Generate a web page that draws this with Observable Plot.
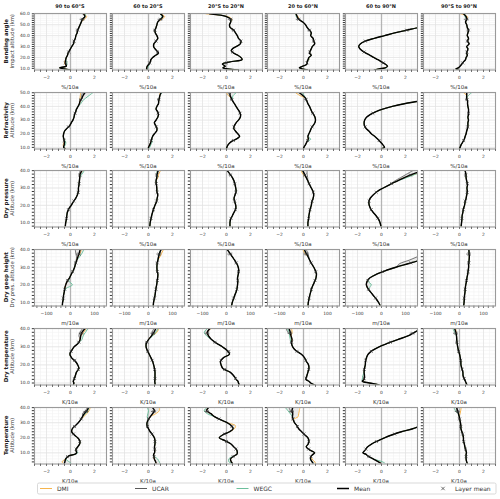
<!DOCTYPE html>
<html><head><meta charset="utf-8">
<script src="https://cdn.jsdelivr.net/npm/d3@7"></script>
<script src="https://cdn.jsdelivr.net/npm/@observablehq/plot@0.6"></script>
<style>
body{margin:0;background:#fff;}
#root{position:relative;width:500px;height:499px;overflow:hidden;background:#fff;}
#root svg{max-width:none;}
</style></head><body><div id="root"></div>
<script>
// ---------- labels ----------
const regions = ["90 to 60°S","60 to 20°S","20°S to 20°N","20 to 60°N","60 to 90°N","90°S to 90°N"];
const rowNames = ["Bending angle","Refractivity","Dry pressure","Dry geop height","Dry temperature","Temperature"];
const rowAxisNames = ["Impact altitude (km)","Altitude (km)","Altitude (km)","Dry pres. altitude (km)","Altitude (km)","Altitude (km)"];
const units = ["%/10a","%/10a","%/10a","m/10a","K/10a","K/10a"];
const legendLabels = ["DMI","UCAR","WEGC","Mean","Layer mean"];

// ---------- tick labels ----------
const xTicksPct = [-2,0,2];
const xTicksM = [-100,0,100];
const yTicksBA = [10,20,30,40,50,60];
const yTicksN = [10,20,30,40,50];
const yTicks40 = [10,20,30,40];

// ---------- Row 1: Bending angle ----------
const altBA = [8.5,9.5,10.5,12,14,16,18,20,22,24,26,28,30,32.5,35,37.5,40,42.5,45,47.5,50,52.5,55,57.5,60];
const meanBA = [
 [0.0,-0.5,-0.9,-0.35,-0.4,-0.42,-0.4,-0.35,-0.25,-0.2,-0.1,0.0,0.1,0.25,0.3,0.4,0.45,0.55,0.6,0.7,0.8,0.9,1.0,1.2,1.1],
 [-0.1,-0.15,-0.15,-0.1,0.05,0.15,0.2,0.35,0.6,0.83,0.7,0.54,0.43,0.45,0.63,0.77,0.7,0.57,0.54,0.63,0.7,0.77,1.0,1.2,1.0],
 [1.0,0.1,-0.3,-0.1,-0.35,0.3,1.3,1.2,0.95,0.6,0.4,0.5,0.8,1.15,1.2,1.0,0.9,0.75,0.6,0.3,0.25,0.35,0.35,0.0,-1.4],
 [0.35,-0.1,-0.35,-0.05,0.3,0.3,0.38,0.45,0.65,0.5,0.56,0.65,0.73,0.93,0.85,0.8,0.6,0.65,0.5,0.3,0.17,-0.06,-0.4,-0.53,-0.62],
 [-0.6,-0.2,0.3,0.5,0.3,0.0,-0.3,-0.65,-0.95,-1.3,-1.6,-1.8,-1.9,-1.75,-1.35,-0.6,0.25,1.1,2.1,3.1,4.0,4.9,5.6,6.3,7.0],
 [-0.1,-0.3,-0.1,0.05,0.2,0.33,0.5,0.55,0.65,0.6,0.65,0.7,0.6,0.8,0.67,0.75,0.65,0.7,0.75,0.65,0.6,0.5,0.6,0.55,0.33]
];
const dmiBA = [[[14,-0.48],[16,-0.5],[55,1.15],[57.5,1.35]],[[55,1.1],[57.5,1.35]],[[55,0.45],[57.5,0.1],[60,-1.7]],[[18,0.45],[57.5,-0.45],[60,-0.7]],[],[[57.5,0.65],[60,0.1]]];
const ucarBA = [[[60,1.0]],[],[[60,-1.3]],[],[],[]];
const wegcBA = [[[14,-0.3],[16,-0.3],[55,0.95],[60,1.25]],[[10.5,-0.05],[12,0.0],[57.5,1.1]],[[60,-1.2]],[[18,0.45],[57.5,-0.6]],[[10.5,0.4]],[[57.5,0.45],[60,0.45]]];
const layerAltBA = [15,25,35,45,55];
const layerBA = [[-0.42,-0.15,0.3,0.6,1.0],[0.1,0.75,0.63,0.54,1.0],[0.0,0.5,1.2,0.6,0.35],[0.3,0.53,0.85,0.5,-0.4],[0.15,-1.45,-1.35,2.1,5.6],[0.27,0.62,0.67,0.75,0.6]];
const errBA = [0.05,0.05,0.08,0.12,0.2];

// ---------- Row 2: Refractivity ----------
const altN = [9,10,12,14,16,18,20,22,24,26,28,30,32,34,36,38,40,42,44,46,48,50];
const meanN = [
 [-0.43,-0.57,-0.52,-0.51,-0.55,-0.6,-0.57,-0.49,-0.29,-0.06,0.06,0.2,0.29,0.34,0.43,0.5,0.63,0.74,0.8,0.95,1.05,1.2],
 [0.0,0.0,0.11,0.2,0.26,0.34,0.49,0.68,0.7,0.6,0.49,0.63,0.77,0.83,0.77,0.63,0.7,0.83,0.85,0.9,0.95,1.05],
 [0.0,0.03,0.14,0.37,0.8,1.09,0.94,0.74,0.6,0.66,0.8,1.0,1.15,1.17,1.09,0.94,0.8,0.66,0.51,0.4,0.3,0.3],
 [0.0,0.03,0.17,0.28,0.4,0.37,0.45,0.56,0.65,0.8,0.95,1.0,0.96,0.85,0.7,0.6,0.5,0.37,0.28,0.17,-0.06,-0.35],
 [0.0,0.25,0.1,-0.1,-0.3,-0.55,-0.85,-1.05,-1.3,-1.42,-1.45,-1.4,-1.25,-0.95,-0.5,0.1,0.9,1.9,3.2,4.3,5.3,6.5],
 [0.0,0.05,0.14,0.28,0.4,0.47,0.55,0.6,0.67,0.7,0.7,0.75,0.7,0.75,0.75,0.75,0.7,0.67,0.67,0.6,0.6,0.6]
];
const dmiN = [[[12,-0.6],[46,0.8],[48,0.82],[50,0.85]],[[50,0.95]],[[48,0.15],[50,0.0]],[[48,-0.3],[50,-0.65]],[],[[50,0.35]]];
const ucarN = [[[48,0.92],[50,1.0]],[],[[50,0.1]],[[50,-0.3]],[],[]];
const wegcN = [[[12,-0.42],[14,-0.4],[42,0.85],[44,1.0],[46,1.25],[48,1.55],[50,1.85]],[[10,0.1],[12,0.2],[14,0.3],[50,1.15]],[[46,0.5],[48,0.55],[50,0.8]],[[16,0.6],[48,0.05],[50,-0.1]],[],[[48,0.75],[50,1.0]]];
const layerAltN = [15,25,35,45];
const layerN = [[-0.53,-0.17,0.38,0.87],[0.23,0.65,0.8,0.87],[0.58,0.63,1.13,0.45],[0.34,0.72,0.78,0.22],[-0.2,-1.36,-0.72,3.75],[0.34,0.68,0.75,0.63]];
const errN = [0.03,0.04,0.06,0.12];

// ---------- Row 3: Dry pressure ----------
const altP = [8,10,12,14,16,18,20,22,24,26,28,30,32,34,36,38,40];
const meanP = [
 [-0.43,-0.4,-0.34,-0.31,-0.26,-0.14,0.06,0.23,0.43,0.57,0.66,0.66,0.71,0.74,0.77,0.8,0.95],
 [0.11,0.14,0.2,0.26,0.34,0.43,0.54,0.66,0.72,0.77,0.7,0.69,0.66,0.63,0.69,0.72,0.8],
 [0.29,0.29,0.34,0.49,0.63,0.77,0.77,0.69,0.63,0.71,0.8,0.77,0.71,0.63,0.49,0.29,0.06],
 [0.37,0.37,0.42,0.45,0.5,0.56,0.65,0.7,0.8,0.85,0.8,0.65,0.5,0.37,0.23,0.08,-0.06],
 [-0.05,-0.12,-0.25,-0.45,-0.7,-0.9,-1.02,-1.05,-0.95,-0.7,-0.35,0.15,0.7,1.3,1.9,2.6,3.4],
 [0.14,0.17,0.2,0.22,0.28,0.33,0.42,0.47,0.55,0.6,0.65,0.62,0.67,0.6,0.55,0.53,0.47]
];
const dmiP = [[[40,1.0]],[[36,0.78],[38,0.85],[40,1.0]],[],[[38,-0.05],[40,-0.2]],[[38,2.8],[40,3.6]],[]];
const ucarP = [[[38,0.76],[40,0.8]],[],[],[[36,0.35],[38,0.3],[40,0.3]],[[34,1.1],[36,1.6],[38,2.1],[40,2.6]],[]];
const wegcP = [[[38,0.95],[40,1.15]],[[40,0.7]],[],[[40,-0.1]],[[36,2.1],[38,2.85],[40,3.7]],[]];
const layerAltP = [12.5,17.5,22.5,27.5,32.5,37.5];
const layerP = [[-0.33,-0.17,0.28,0.64,0.72,0.79],[0.21,0.41,0.68,0.72,0.65,0.71],[0.37,0.74,0.68,0.78,0.69,0.34],[0.43,0.54,0.72,0.81,0.47,0.12],[-0.3,-0.85,-1.03,-0.44,0.85,2.42],[0.2,0.32,0.48,0.64,0.65,0.53]];
const errP = [0.02,0.02,0.03,0.04,0.06,0.12];

// ---------- Row 4: Dry geopotential height ----------
const altG = [8,10,12,14,16,18,20,22,24,26,28,30,32,34,36,38,40];
const meanG = [
 [-34,-33,-30,-29,-26,-24,-20,-14,-4,3,11,17,21,26,31,36,40],
 [20,21,24,27,29,31,34,36,38,39,36,35,36,39,42,46,52],
 [21,24,29,34,40,44,46,47,46,49,51,49,43,34,24,14,3],
 [19,20,23,26,30,34,40,47,52,54,50,43,34,26,19,11,4],
 [-5,-12,-22,-34,-46,-57,-63,-60,-48,-22,15,60,110,160,205,255,305],
 [17,19,20,21,23,24,26,29,31,34,36,38,38,40,41,40,39]
];
const dmiG = [[[38,40],[40,45]],[[36,48],[38,55],[40,62]],[],[[38,5],[40,-2]],[[38,265],[40,320]],[]];
const ucarG = [[[34,24],[36,25],[38,22],[40,20]],[],[],[[36,22],[38,18],[40,12]],[[32,75],[34,115],[36,150],[38,190],[40,230]],[]];
const wegcG = [[[18,-18],[20,8],[22,-6],[36,38],[38,48],[40,55]],[[40,50]],[],[[40,2]],[[18,-54],[20,-42],[22,-55],[38,270],[40,330]],[]];
const layerAltG = [12.5,17.5,22.5,27.5,32.5,37.5];
const layerG = [[-30,-24,-12,9,22,35],[25,31,37,37,37,45],[30,43,47,50,41,16],[24,33,48,51,32,13],[-25,-54,-57,5,122,242],[20,24,29,36,39,40]];
const errG = [1.5,1.5,2,3,5,10];

// ---------- Row 5: Dry temperature ----------
const altDT = [9,10,11,12,14,16,18,20,22,24,26,28,30,32,34,36,38,40];
const meanDT = [
 [0.25,0.28,0.23,0.3,0.4,0.5,0.7,0.6,0.4,0.08,-0.05,0.1,0.3,0.65,0.8,0.85,0.95,1.2],
 [0.55,0.54,0.52,0.54,0.54,0.54,0.5,0.43,0.34,0.2,0.05,-0.1,-0.2,-0.18,0.0,0.25,0.45,0.6],
 [1.06,1.0,0.95,0.8,0.6,0.3,-0.3,-0.45,-0.5,-0.25,0.25,0.05,-0.35,-0.85,-1.25,-1.5,-1.6,-1.4],
 [0.9,0.6,0.45,0.2,0.28,0.37,0.45,0.42,0.23,0.08,-0.2,-0.65,-0.9,-1.0,-0.96,-1.04,-1.1,-1.2],
 [-0.2,-1.0,-1.6,-1.45,-1.42,-1.45,-1.42,-1.35,-1.33,-1.25,-1.1,-0.75,-0.2,0.55,1.35,2.2,2.75,3.3],
 [0.63,0.55,0.49,0.42,0.3,0.28,0.2,0.12,0.11,0.06,0.0,-0.09,-0.15,-0.2,-0.23,-0.25,-0.3,-0.4]
];
const dmiDT = [[[38,1.1],[40,1.3]],[[38,0.7],[40,0.85]],[[40,-1.3]],[[38,-0.95],[40,-1.0]],[],[[40,-0.3]]];
const ucarDT = [[[36,0.7],[38,0.8],[40,1.0]],[[38,0.3],[40,0.45]],[],[[38,-1.3],[40,-1.45]],[],[[40,-0.35]]];
const wegcDT = [[[34,0.95],[36,1.05],[38,1.25],[40,1.45]],[[36,0.35],[38,0.6],[40,0.8]],[[36,-1.65],[38,-1.85],[40,-1.6]],[[34,-1.1],[36,-1.15],[38,-1.2],[40,-1.35]],[[12,-1.6],[14,-1.55]],[[38,-0.4],[40,-0.55]]];
const layerAltDT = [12.5,17.5,22.5,27.5,32.5,37.5];
const layerDT = [[0.32,0.65,0.35,0.05,0.7,0.93],[0.54,0.51,0.3,-0.06,-0.14,0.4],[0.75,-0.15,-0.45,0.2,-0.95,-1.58],[0.22,0.43,0.19,-0.54,-0.99,-1.09],[-1.44,-1.43,-1.31,-0.85,0.75,2.6],[0.39,0.22,0.1,-0.07,-0.21,-0.29]];
const errDT = [0.03,0.03,0.04,0.06,0.1,0.2];

// ---------- Row 6: Temperature ----------
const altTT = [3,4,6,8,9,10,12,14,16,18,20,22,24,26,28,30,32,34,36,38,40];
const meanTT = [
 [-0.51,-0.47,-0.4,-0.15,0.34,0.51,0.45,0.6,0.77,0.77,0.6,0.3,0.1,0.15,0.4,0.65,0.85,1.0,1.15,1.37,1.49],
 [0.63,0.6,0.48,0.45,0.43,0.5,0.52,0.5,0.54,0.54,0.49,0.34,0.14,0.0,-0.12,-0.12,-0.02,0.15,0.34,0.49,0.34],
 [0.49,0.4,0.34,0.65,0.86,0.9,0.85,0.6,0.35,-0.1,-0.6,-0.3,0.25,0.55,0.4,0.05,-0.5,-1.0,-1.3,-1.66,-1.51],
 [0.79,0.72,0.58,0.65,0.79,0.93,0.5,0.23,0.4,0.45,0.37,0.1,-0.15,-0.4,-0.55,-0.75,-0.85,-0.92,-0.9,-0.96,-0.9],
 [-0.05,-0.25,-0.7,-1.15,-1.28,-1.55,-1.35,-1.15,-0.8,-0.3,0.25,0.9,1.65,2.6,3.3,4.0,4.7,5.4,6.1,6.8,7.5],
 [0.65,0.6,0.55,0.55,0.55,0.58,0.52,0.45,0.4,0.33,0.33,0.28,0.2,0.12,0.11,0.08,0.02,-0.02,-0.09,-0.17,-0.23]
];
const dmiTT = [[[3,-0.6],[4,-0.7],[34,1.1],[36,1.35],[38,1.55],[40,1.65]],[[36,0.6],[38,0.9],[40,0.9]],[[26,0.65],[28,0.75]],[[3,1.0],[4,0.95],[6,0.7],[34,-0.45],[36,-0.4],[38,-0.35],[40,-0.3]],[[4,-0.2]],[[36,0.05],[38,0.1],[40,0.15]]];
const ucarTT = [[[36,1.0],[38,1.25],[40,1.4]],[[38,0.55],[40,0.3]],[],[[38,-1.1],[40,-1.2]],[],[[40,-0.25]]];
const wegcTT = [[[3,0.05],[4,-0.1],[10,0.6],[36,1.25],[38,1.45],[40,1.55]],[[3,0.95],[4,0.9],[6,0.75],[34,-0.1],[36,-0.05],[38,0.0],[40,-0.1]],[[4,0.2],[6,0.2],[36,-1.6],[38,-1.85],[40,-1.65]],[[3,0.85],[36,-1.1],[38,-1.3],[40,-1.5]],[[3,0.3],[4,0.1]],[[38,-0.35],[40,-0.45]]];
const layerAltTT = [7.5,12.5,17.5,22.5,27.5,32.5,37.5];
const layerTT = [[-0.25,0.48,0.77,0.25,0.33,0.9,1.32],[0.46,0.51,0.54,0.3,-0.08,0.02,0.45],[0.55,0.78,0.0,-0.15,0.45,-0.62,-1.6],[0.63,0.43,0.44,0.04,-0.5,-0.87,-0.95],[-1.05,-1.3,-0.42,1.1,3.1,4.9,6.6],[0.55,0.5,0.35,0.26,0.11,0.01,-0.15]];
const errTT = [0.05,0.03,0.03,0.04,0.06,0.1,0.2];

// ---------- assemble ----------
const pctX = {domain:[-3,3], major:xTicksPct, minor:d3.range(-3,3.001,0.5)};
const mX = {domain:[-150,150], major:xTicksM, minor:d3.range(-140,141,20)};
const rows = [
 {alt:altBA, mean:meanBA, dmi:dmiBA, ucar:ucarBA, wegc:wegcBA, lAlt:layerAltBA, lv:layerBA, le:errBA, y:[8.5,60.3], yMajor:yTicksBA, x:pctX},
 {alt:altN, mean:meanN, dmi:dmiN, ucar:ucarN, wegc:wegcN, lAlt:layerAltN, lv:layerN, le:errN, y:[8.8,50.2], yMajor:yTicksN, x:pctX},
 {alt:altP, mean:meanP, dmi:dmiP, ucar:ucarP, wegc:wegcP, lAlt:layerAltP, lv:layerP, le:errP, y:[7.5,40.1], yMajor:yTicks40, x:pctX},
 {alt:altG, mean:meanG, dmi:dmiG, ucar:ucarG, wegc:wegcG, lAlt:layerAltG, lv:layerG, le:errG, y:[8,40.1], yMajor:yTicks40, x:mX},
 {alt:altDT, mean:meanDT, dmi:dmiDT, ucar:ucarDT, wegc:wegcDT, lAlt:layerAltDT, lv:layerDT, le:errDT, y:[8.9,40.1], yMajor:yTicks40, x:pctX},
 {alt:altTT, mean:meanTT, dmi:dmiTT, ucar:ucarTT, wegc:wegcTT, lAlt:layerAltTT, lv:layerTT, le:errTT, y:[2.6,40.1], yMajor:yTicks40, x:pctX}
];

const C_DMI = "#f6b54e", C_UCAR = "#5a5a5a", C_WEGC = "#6cbf9c";
const W = 72, H = 56.5;
const colX = c => Math.round(34 + 77.8*c);
const rowY = r => Math.round(12.7 + 78.8*r);
const fmtX = d => d < 0 ? "\u2212" + Math.abs(d) : String(d);
const curve = "catmull-rom";
const root = document.getElementById("root");

// overlay for titles, row labels, units and legend
const ov = d3.select(root).append("svg").attr("width",500).attr("height",499)
  .style("position","absolute").style("left","0px").style("top","0px")
  .style("font-family","'DejaVu Sans', sans-serif").attr("fill","#222");

regions.forEach((t,c) => ov.append("text").attr("x", colX(c)+W/2).attr("y", 7.6)
  .attr("text-anchor","middle").attr("font-size",5).attr("font-weight","bold").text(t));

rows.forEach((R, r) => {
  const cy = rowY(r) + H/2;
  ov.append("text").attr("transform",`translate(7.8,${cy}) rotate(-90)`).attr("text-anchor","middle")
    .attr("font-size",5.5).attr("font-weight","bold").text(rowNames[r]);
  ov.append("text").attr("transform",`translate(14,${cy}) rotate(-90)`).attr("text-anchor","middle")
    .attr("font-size",5.3).attr("fill","#333").text(rowAxisNames[r]);
  for (let c = 0; c < 6; c++) {
    ov.append("text").attr("x", colX(c)+W/2).attr("y", rowY(r)+H+19)
      .attr("text-anchor","middle").attr("font-size",5.5).attr("fill","#333").text(units[r]);
  }
});

// legend
const lg = ov.append("g");
lg.append("rect").attr("x",37.5).attr("y",483).attr("width",458.5).attr("height",11).attr("rx",1.5)
  .attr("fill","#fff").attr("stroke","#cfcfcf").attr("stroke-width",0.8);
const legItems = [
  {x:40, color:C_DMI, w:1},
  {x:135, color:C_UCAR, w:1},
  {x:236.5, color:C_WEGC, w:1},
  {x:337, color:"#000", w:1.5}
];
legItems.forEach((it,i) => {
  lg.append("line").attr("x1",it.x).attr("x2",it.x+12).attr("y1",488.5).attr("y2",488.5)
    .attr("stroke",it.color).attr("stroke-width",it.w);
  lg.append("text").attr("x",it.x+17).attr("y",490.7).attr("font-size",6).attr("fill","#333").text(legendLabels[i]);
});
lg.append("path").attr("d", d3.symbol(d3.symbolTimes, 9)()).attr("transform","translate(443,488.5)")
  .attr("fill","none").attr("stroke","#333").attr("stroke-width",0.7);
lg.append("text").attr("x",455).attr("y",490.7).attr("font-size",6).attr("fill","#333").text(legendLabels[4]);

// panels
rows.forEach((R, r) => {
  const yMinor = d3.range(2, 61, 2).filter(v => v >= R.y[0] && v <= R.y[1]);
  for (let c = 0; c < 6; c++) {
    const dm = new Map(R.dmi[c]), um = new Map(R.ucar[c]), wm = new Map(R.wegc[c]);
    const data = R.alt.map((a, i) => {
      const m = R.mean[c][i];
      const d = dm.has(a) ? dm.get(a) : m;
      const u = um.has(a) ? um.get(a) : m;
      const w = wm.has(a) ? wm.get(a) : m;
      return {alt:a, mean:m, dmi:d, ucar:u, wegc:w, lo:Math.min(d,u,w), hi:Math.max(d,u,w)};
    });
    const layers = R.lAlt.map((a, i) => ({alt:a, v:R.lv[c][i], e:R.le[i]}));
    const ml = c === 0 ? 20 : 4, mr = 2, mt = 2, mb = 12.5;
    const svg = Plot.plot({
      width: ml + W + mr, height: mt + H + mb,
      marginLeft: ml, marginRight: mr, marginTop: mt, marginBottom: mb,
      style: {fontFamily: "'DejaVu Sans', sans-serif", fontSize: "4.4px", color: "#333", background: "transparent", overflow: "visible", maxWidth: "none"},
      x: {domain: R.x.domain, ticks: R.x.minor, tickFormat: d => R.x.major.includes(d) ? fmtX(d) : "", tickSize: 2.2, tickPadding: 3.5, label: null},
      y: {domain: R.y, ticks: yMinor, tickFormat: d => (c === 0 && R.yMajor.includes(d)) ? d.toFixed(1) : "", tickSize: 2.2, tickPadding: 2.5, label: null},
      marks: [
        Plot.ruleX(R.x.minor, {stroke: "#f1f1f1", strokeWidth: 0.6}),
        Plot.ruleY(yMinor, {stroke: "#f1f1f1", strokeWidth: 0.6}),
        Plot.ruleX(R.x.major, {stroke: "#e2e2e2", strokeWidth: 0.7}),
        Plot.ruleY(R.yMajor, {stroke: "#e2e2e2", strokeWidth: 0.7}),
        Plot.ruleX([0], {stroke: "#b4b4b4", strokeWidth: 1.3}),
        Plot.areaX(data, {y: "alt", x1: "lo", x2: "hi", fill: "#d2d2d2", fillOpacity: 0.45, curve, clip: true}),
        Plot.line(data, {x: "ucar", y: "alt", stroke: C_UCAR, strokeWidth: 0.8, curve, clip: true}),
        Plot.line(data, {x: "dmi", y: "alt", stroke: C_DMI, strokeWidth: 1, curve, clip: true}),
        Plot.line(data, {x: "wegc", y: "alt", stroke: C_WEGC, strokeWidth: 1, curve, clip: true}),
        Plot.line(data, {x: "mean", y: "alt", stroke: "#000", strokeWidth: 1.4, curve, clip: true}),
        Plot.ruleY(layers, {y: "alt", x1: d => d.v - d.e, x2: d => d.v + d.e, stroke: "#333", strokeWidth: 0.7, clip: true}),
        Plot.dot(layers, {x: "v", y: "alt", symbol: "times", r: 1.5, stroke: "#333", strokeWidth: 0.6, clip: true}),
        Plot.frame({stroke: "#9a9a9a", strokeWidth: 1.1})
      ]
    });
    const div = document.createElement("div");
    div.style.cssText = `position:absolute;left:${colX(c)-ml}px;top:${rowY(r)-mt}px;`;
    div.appendChild(svg);
    root.appendChild(div);
  }
});
</script>
</body></html>
